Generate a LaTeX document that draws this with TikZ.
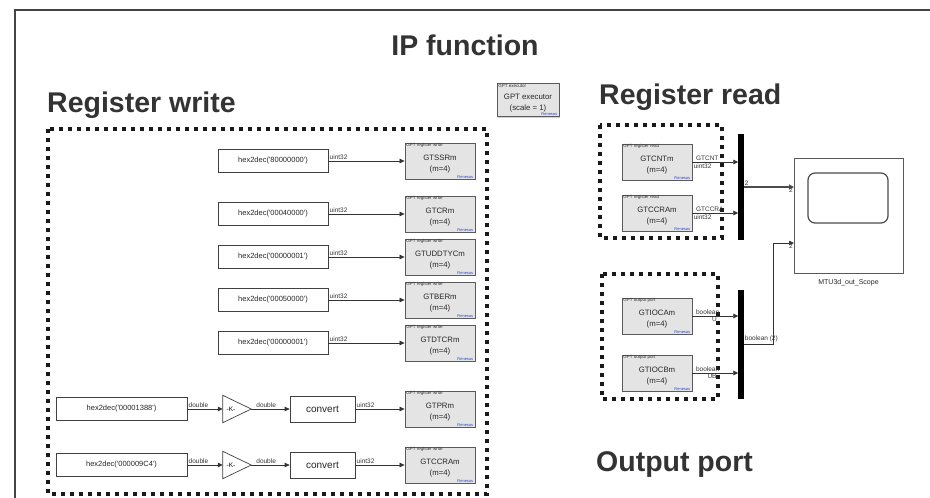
\documentclass[tikz,border=0pt]{standalone}
\usepackage{fontspec}
\setmainfont{Liberation Sans}
\usetikzlibrary{shadows,arrows.meta,calc}
\definecolor{blockgray}{HTML}{E4E4E4}
\definecolor{edgec}{HTML}{5A5A5A}
\definecolor{titlec}{HTML}{333333}
\definecolor{renblue}{HTML}{3344CC}
\definecolor{framec}{HTML}{444444}
\newcommand{\gblock}[6]{%
  \node[gblk] (#1) at (#2,#3) {};
  \node[tinyl, anchor=north west] (#1-t) at ([xshift=1.5pt,yshift=-0.8pt]#1.north west) {#4};
  \node[mainl] (#1-a) at ([yshift=3pt]#1.center) {#5};
  \node[mainl] (#1-b) at ([yshift=-8pt]#1.center) {#6};
  \node[renl, anchor=south east] (#1-r) at ([xshift=-2pt,yshift=1pt]#1.south east) {Renesas};
}
\newcommand{\hx}{hex2dec(\textquotesingle}
\newcommand{\hy}{\textquotesingle)}
\begin{document}
\begin{tikzpicture}[x=1pt,y=-1pt,
  title/.style={font=\bfseries\fontsize{28.5}{30}\selectfont, text=titlec, inner sep=0pt},
  dotbox/.style={draw=black!90, line width=4pt, dash pattern=on 4pt off 5pt},
  gblk/.style={draw=edgec, fill=blockgray, line width=0.8pt, minimum width=70pt, minimum height=36pt,
     drop shadow={shadow xshift=1pt, shadow yshift=-1pt, opacity=0.35}},
  tinyl/.style={font=\fontsize{4.5}{5}\selectfont, inner sep=0pt, text=black!80},
  mainl/.style={font=\fontsize{7.8}{9}\selectfont, inner sep=0pt, text=black!85},
  renl/.style={font=\fontsize{4}{5}\selectfont, inner sep=0pt, text=renblue},
  cblk/.style={draw=black!75, fill=white, line width=0.7pt, minimum height=23pt,
     font=\fontsize{7.5}{9}\selectfont, text=black!85, inner sep=0pt},
  sig/.style={draw=black!80, line width=0.7pt, -{Triangle[length=5pt,width=4.5pt]}},
  vec/.style={draw=black!70, line width=2pt, -{Triangle[length=5pt,width=5pt]}},
  lbl/.style={font=\fontsize{6.5}{7}\selectfont, text=black!80, inner sep=1pt},
  bus/.style={fill=black, draw=black, minimum width=5pt, inner sep=0pt},
  gainb/.style={minimum width=28pt, minimum height=27pt, inner sep=0pt}
]
\useasboundingbox (0,0) rectangle (930,498);
% outer frame
\draw[draw=framec, line width=1.5pt] (15,498) -- (15,10) -- (930,10);
% titles
\node[title] (tip) at (465,45) {IP function};
\node[title, anchor=west] (trw) at (47,105) {Register write};
\node[title, anchor=west] (trr) at (599,97) {Register read};
\node[title, anchor=west] (top) at (596,465) {Output port};
% executor
\node[gblk, minimum width=62pt, minimum height=33pt] (ex) at (528,100) {};
\node[tinyl, anchor=north west] (ex-t) at ([xshift=1.5pt,yshift=-0.8pt]ex.north west) {GPT executor};
\node[mainl] (ex-a) at ([yshift=3pt]ex.center) {GPT executor};
\node[mainl] (ex-b) at ([yshift=-8pt]ex.center) {(scale = 1)};
\node[renl, anchor=south east] (ex-r) at ([xshift=-2pt,yshift=1pt]ex.south east) {Renesas};
% dotted boxes
\draw[dotbox] (48,129) rectangle (487,494);
\draw[dotbox] (600,125) rectangle (722,238);
\draw[dotbox] (602,274) rectangle (718,399);
% register write rows
\foreach \n/\y/\v/\r in {1/161/80000000/GTSSRm, 2/214/00040000/GTCRm, 3/257/00000001/GTUDDTYCm, 4/300/00050000/GTBERm, 5/343/00000001/GTDTCRm}{
  \node[cblk, minimum width=110pt] (h\n) at (273,\y) {\hx\v\hy};
  \gblock{w\n}{440}{\y}{GPT register write}{\r}{(m=4)}
  \draw[sig] (h\n.east) -- (w\n.west) node[lbl, pos=0, anchor=south west] {uint32};
}
\foreach \n/\y/\v/\r in {6/409/00001388/GTPRm, 7/465/000009C4/GTCCRAm}{
  \node[cblk, minimum width=131pt] (h\n) at (121.5,\y) {\hx\v\hy};
  \node[gainb] (g\n) at (237,\y) {};
  \draw[draw=black!75, fill=white, line width=0.7pt] (g\n.north west) -- (g\n.east) -- (g\n.south west) -- cycle;
  \node[font=\fontsize{6.5}{7}\selectfont, inner sep=0pt] (k\n) at ([xshift=-6pt]g\n.center) {-K-};
  \node[cblk, minimum width=65pt, minimum height=26pt, font=\fontsize{10}{11}\selectfont] (c\n) at (322.5,\y) {convert};
  \gblock{w\n}{440}{\y}{GPT register write}{\r}{(m=4)}
  \draw[sig] (h\n.east) -- (g\n.west) node[lbl, pos=0, anchor=south west] {double};
  \draw[sig] (g\n.east) -- (c\n.west) node[lbl, pos=0.1, anchor=south west] {double};
  \draw[sig] (c\n.east) -- (w\n.west) node[lbl, pos=0, anchor=south west] {uint32};
}
% register read
\gblock{r1}{657}{162}{GPT register read}{GTCNTm}{(m=4)}
\gblock{r2}{657}{213}{GPT register read}{GTCCRAm}{(m=4)}
\node[bus, minimum height=105pt] (b1) at (741,187) {};
\draw[sig] (r1.east) -- (r1.east -| b1.west) node[lbl, pos=0.05, anchor=south west] {GTCNT} node[lbl, pos=0, anchor=north west] {uint32};
\draw[sig] (r2.east) -- (r2.east -| b1.west) node[lbl, pos=0.05, anchor=south west] {GTCCRA} node[lbl, pos=0, anchor=north west] {uint32};
% scope
\node[draw=black!65, fill=white, line width=0.8pt, minimum width=109pt, minimum height=115pt] (sc) at (848.5,215.5) {};
\node[draw=black!70, line width=1.2pt, rounded corners=7pt, minimum width=80pt, minimum height=50pt] (scr) at (848,198) {};
\node[font=\fontsize{7}{8}\selectfont, text=black!85, inner sep=0pt] (scl) at (848.5,283) {MTU3d\_out\_Scope};
\coordinate (sin1) at (794,187);
\coordinate (sin2) at (794,243);
\draw[vec] (b1.east) -- (sin1);
\node[lbl, anchor=south west] (n2a) at (b1.east) {2};
\node[lbl, anchor=north east] (n2b) at (sin1) {2};
% output port
\gblock{o1}{657}{316}{GPT output port}{GTIOCAm}{(m=4)}
\gblock{o2}{657}{373}{GPT output port}{GTIOCBm}{(m=4)}
\node[bus, minimum height=108pt] (b2) at (741,344) {};
\draw[sig] (o1.east) -- (o1.east -| b2.west) node[lbl, pos=0.05, anchor=south west] {boolean} node[lbl, pos=0.4, anchor=north west] {U};
\draw[sig] (o2.east) -- (o2.east -| b2.west) node[lbl, pos=0.05, anchor=south west] {boolean} node[lbl, pos=0.3, anchor=north west] {UB};
\draw[sig] (b2.east) -- ++(30,0) |- (sin2);
\node[lbl, anchor=south west] (bl) at ([yshift=1pt]b2.east) {boolean (2)};
\node[lbl, anchor=north east] (n2c) at (sin2) {2};
\end{tikzpicture}
\end{document}
